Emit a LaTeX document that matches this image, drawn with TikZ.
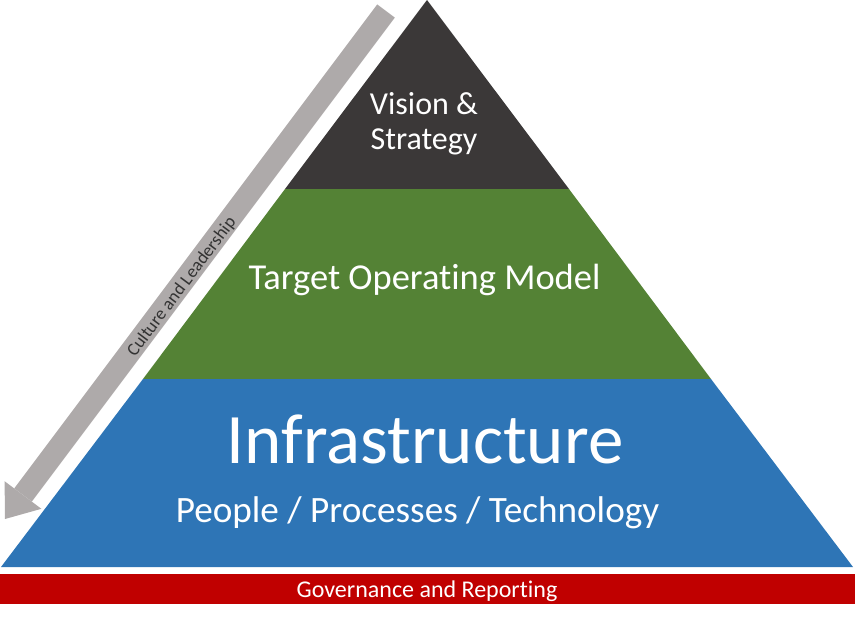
\documentclass[tikz,border=0pt]{standalone}
\usepackage{fontspec}
\setmainfont{Carlito}[Ligatures=NoCommon]
\usetikzlibrary{arrows.meta}
\definecolor{topgray}{HTML}{3B3838}
\definecolor{midgreen}{HTML}{548235}
\definecolor{lowblue}{HTML}{2E75B6}
\definecolor{govred}{HTML}{C00000}
\definecolor{bandgray}{HTML}{AEAAAA}
\begin{document}
\begin{tikzpicture}[x=1pt,y=-1pt,
  layer/.style={white,inner sep=0pt,align=center},
  band/.style={bandgray,line width=22pt,-{Triangle[length=30pt,width=46pt,line width=0pt]}}]
 \useasboundingbox (0,0) rectangle (855,618);
 \fill[topgray] (427,0)--(569,189)--(285,189)--cycle;
 \fill[midgreen] (285,189)--(569,189)--(711,379)--(143,379)--cycle;
 \fill[lowblue] (143,379)--(711,379)--(853,567)--(1,567)--cycle;
 \fill[govred] (0,574) rectangle (855,604);
 \coordinate (bandtop) at (386,11);
 \coordinate (bandtip) at (5,519);
 \draw[band] (bandtop)--(bandtip);
 \node[rotate=53.13,inner sep=0pt,text=black!80,font=\fontsize{18}{18}\selectfont] (culture) at (182,287) {Culture and Leadership};
 \node[layer,font=\fontsize{32}{35}\selectfont] (vision) at (424,124) {Vision \&\\Strategy};
 \node[layer,anchor=base,font=\fontsize{36.5}{36.5}\selectfont] (tom) at (424.5,289) {Target Operating Model};
 \node[layer,anchor=base,font=\fontsize{71}{71}\selectfont] (infra) at (425,463) {Infrastructure};
 \node[layer,anchor=base,font=\fontsize{37.2}{37.2}\selectfont] (ppt) at (417.5,522) {People / Processes / Technology};
 \node[layer,anchor=base,font=\fontsize{24}{24}\selectfont] (gov) at (427,597) {Governance and Reporting};
\end{tikzpicture}
\end{document}
